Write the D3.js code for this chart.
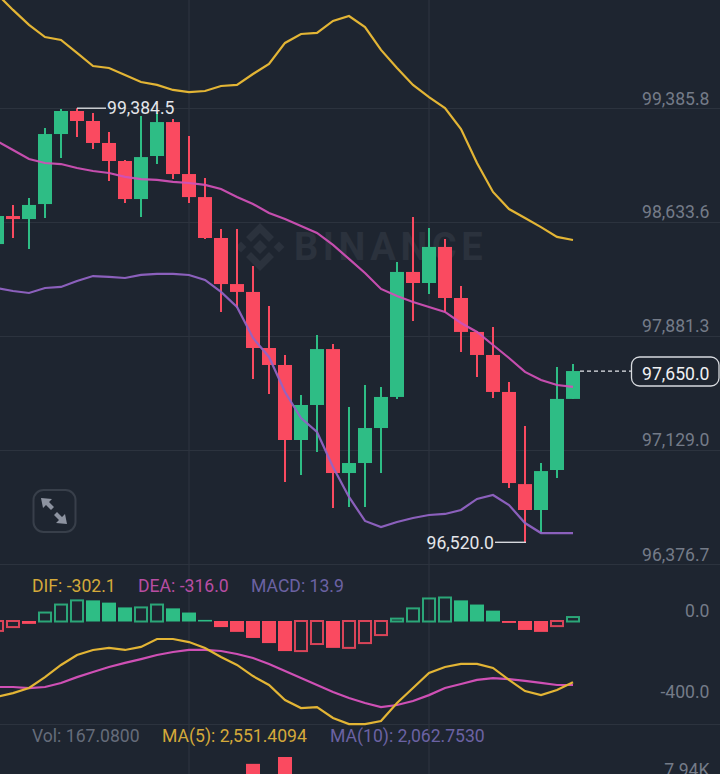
<!DOCTYPE html>
<html>
<head>
<meta charset="utf-8">
<script src="https://cdn.jsdelivr.net/npm/d3@7"></script>
<style>
  html, body { margin: 0; padding: 0; background: #1e2530; overflow: hidden; }
  svg { display: block; font-family: Roboto, sans-serif; }
</style>
</head>
<body>
<script>
const width = 720
const height = 774

// candles, oldest first, the first one is cut by the left edge
const opens = [98488, 98673, 98653, 98752, 99214, 99366, 99300, 99155, 99036, 98785, 99069, 99293, 98950, 98798, 98528, 98224, 98172, 97802, 97690, 97195, 97426, 97795, 96977, 97043, 97274, 97479, 98304, 98231, 98469, 98132, 97908, 97756, 97512, 96904, 96733, 96997, 97466]
const highs = [98686, 98746, 98792, 99254, 99379, 99384.5, 99353, 99227, 99043, 99333, 99353, 99313, 99201, 98924, 98587, 98587, 98343, 98079, 97756, 97492, 97888, 97828, 97413, 97558, 97545, 98370, 98667, 98594, 98521, 98211, 97914, 97941, 97578, 97287, 97043, 97677, 97696]
const lows = [98475, 98528, 98455, 98660, 99056, 99194, 99115, 98904, 98759, 98667, 99016, 98917, 98759, 98521, 98040, 98066, 97598, 97499, 96918, 96964, 97116, 96746, 96753, 96753, 96977, 97466, 97980, 98158, 98040, 97776, 97611, 97472, 96878, 96520, 96581, 96944, 97466]
const closes = [98673, 98653, 98746, 99214, 99366, 99300, 99155, 99036, 98785, 99062, 99293, 98950, 98798, 98528, 98224, 98172, 97802, 97690, 97195, 97426, 97795, 96977, 97043, 97274, 97479, 98304, 98231, 98469, 98132, 97908, 97756, 97512, 96911, 96733, 96990, 97466, 97650]

// bollinger bands
const bollUp = [100138, 100033, 99934, 99854, 99835, 99749, 99663, 99650, 99604, 99557, 99538, 99505, 99491, 99498, 99531, 99538, 99610, 99676, 99815, 99874, 99881, 99960, 99993, 99920, 99769, 99650, 99538, 99458, 99386, 99247, 99023, 98832, 98719, 98660, 98600, 98535, 98515]
const bollMid = [99168, 99109, 99049, 99023, 99016, 98990, 98970, 98957, 98931, 98917, 98911, 98898, 98891, 98878, 98851, 98799, 98752, 98693, 98653, 98607, 98561, 98482, 98390, 98297, 98192, 98145, 98106, 98073, 98040, 97967, 97908, 97822, 97736, 97644, 97591, 97558, 97545]
const bollLow = [98198, 98178, 98165, 98198, 98205, 98244, 98277, 98271, 98264, 98284, 98291, 98291, 98284, 98251, 98172, 98073, 97868, 97743, 97512, 97340, 97248, 97017, 96819, 96661, 96621, 96654, 96680, 96700, 96707, 96733, 96806, 96832, 96766, 96647, 96581, 96581, 96581]

// macd panel
const dif = [-375, -356, -331, -277, -217, -168, -143, -133, -143, -128, -89, -89, -104, -133, -178, -217, -272, -316, -390, -430, -425, -479, -509, -509, -494, -405, -331, -257, -227, -212, -212, -232, -291, -346, -366, -341, -302.1]
const dea = [-326, -326, -331, -326, -306, -277, -252, -227, -207, -188, -168, -153, -143, -143, -148, -163, -183, -212, -247, -282, -316, -351, -380, -405, -425, -415, -395, -366, -331, -311, -291, -282, -287, -296, -306, -316, -316]
const macd = [-31, -19, -9, 28, 53, 66, 66, 59, 44, 44, 53, 41, 28, 5, -19, -34, -53, -69, -94, -94, -72, -84, -84, -69, -44, 9, 41, 72, 75, 66, 53, 34, -6, -28, -34, -16, 13.9]
const macdHollow = [1, 1, 0, 1, 1, 1, 0, 0, 0, 1, 1, 0, 0, 0, 0, 0, 0, 0, 0, 1, 1, 0, 1, 1, 1, 1, 1, 1, 1, 0, 0, 0, 0, 0, 0, 1, 1]

// only these two volume bars reach above the bottom edge
const volIndex = [16, 18]
const volValues = [11700, 13400]

const priceTicks = [99385.8, 98633.6, 97881.3, 97129.0, 96376.7]
const macdTicks = [0, -400]
const volTicks = [7940]
const lastPrice = 97650.0
const highPrice = 99384.5
const lowPrice = 96520.0
const candleCount = closes.length

const bg = "#1e2530"
const green = "#2ebd85"
const red = "#fa4a60"
const yellow = "#e3b535"
const pink = "#cf50b5"
const purple = "#9163c4"
const grid = "#2c333e"
const tickColor = "#747b88"

const x = d3.scaleLinear().domain([0, 36]).range([-3, 573])
const y = d3.scaleLinear().domain([96376.7, 99385.8]).range([564, 108])
const yMacd = d3.scaleLinear().domain([-400, 0]).range([702, 621])
const yHist = d3.scaleLinear().domain([-100, 100]).range([653, 589])
const yVol = d3.scaleLinear().domain([7940, 13400]).range([779, 757])
const fmt = d3.format(",.1f")
const plain = (d) => fmt(d).replace("\u2212", "-")

const svg = d3.select("body").append("svg").attr("width", width).attr("height", height).attr("viewBox", [0, 0, width, height])
svg.append("rect").attr("width", width).attr("height", height).attr("fill", bg)

// vertical grid lines, they run through all panels
svg.append("g").attr("stroke", grid).attr("stroke-width", 1.2)
  .selectAll("line").data([12, 27]).join("line")
  .attr("x1", (d) => x(d)).attr("x2", (d) => x(d)).attr("y1", 0).attr("y2", height)

function hGrid(scale, ticks) {
  const g = svg.append("g").call(d3.axisRight(scale).tickValues(ticks).tickSize(width).tickFormat(""))
  g.select(".domain").remove()
  g.selectAll("line").attr("stroke", grid).attr("stroke-width", 1.2)
}
hGrid(y, priceTicks)
svg.append("g").call(d3.axisRight(d3.scaleLinear().domain([0, 1]).range([724, 725])).tickValues([0]).tickSize(width).tickFormat(""))
  .call((g) => g.select(".domain").remove())
  .selectAll("line").attr("stroke", grid).attr("stroke-width", 1.2)

// watermark
const mark = svg.append("g").attr("transform", "translate(260,247)").attr("fill", "#2b323d")
const diamond = (cx, cy, r) => `M${cx},${cy - r}L${cx + r},${cy}L${cx},${cy + r}L${cx - r},${cy}Z`
mark.append("path").attr("d", diamond(0, 0, 7))
mark.append("path").attr("d", diamond(-19, 0, 5.5))
mark.append("path").attr("d", diamond(19, 0, 5.5))
mark.append("path").attr("d", "M0,-24L14,-10L9,-5L0,-14L-9,-5L-14,-10Z")
mark.append("path").attr("d", "M0,24L14,10L9,5L0,14L-9,5L-14,10Z")
svg.append("text").attr("x", 294).attr("y", 260).text("BINANCE")
  .attr("fill", "#2b323d").attr("font-size", 38).attr("font-weight", 700).attr("letter-spacing", 4.6)

// macd histogram
const histG = svg.append("g")
histG.selectAll("rect").data(macd).join("rect")
  .attr("x", (d, i) => x(i) - 7 + (macdHollow[i] ? 1 : 0))
  .attr("width", (d, i) => (macdHollow[i] ? 12 : 14))
  .attr("y", (d) => Math.min(yHist(d), yHist(0)) + (d > 0 ? 0.5 : 0))
  .attr("height", (d) => Math.max(Math.abs(yHist(d) - yHist(0)), 1.5))
  .attr("fill", (d, i) => (macdHollow[i] ? "none" : d >= 0 ? green : red))
  .attr("stroke", (d, i) => (macdHollow[i] ? (d >= 0 ? green : red) : "none"))
  .attr("stroke-opacity", 0.85)
  .attr("stroke-width", 2)

const lineOf = (scale) => d3.line().x((d, i) => x(i)).y((d) => scale(d))
svg.append("path").datum(dea).attr("d", lineOf(yMacd)).attr("fill", "none").attr("stroke", pink).attr("stroke-width", 2.2)
svg.append("path").datum(dif).attr("d", lineOf(yMacd)).attr("fill", "none").attr("stroke", yellow).attr("stroke-width", 2.2)

// volume bars, most of them are below the window
svg.append("g").selectAll("rect").data(volValues).join("rect")
  .attr("x", (d, i) => x(volIndex[i]) - 7)
  .attr("width", 14)
  .attr("y", (d) => yVol(d))
  .attr("height", (d) => height - yVol(d))
  .attr("fill", red)

// candles
const up = (i) => closes[i] > opens[i]
const candle = svg.append("g").selectAll("g").data(d3.range(candleCount)).join("g")
candle.append("line")
  .attr("x1", (i) => x(i)).attr("x2", (i) => x(i))
  .attr("y1", (i) => y(highs[i])).attr("y2", (i) => y(lows[i]))
  .attr("stroke", (i) => (up(i) ? green : red))
  .attr("stroke-width", 2)
candle.append("rect")
  .attr("x", (i) => x(i) - 7)
  .attr("width", 14)
  .attr("y", (i) => y(Math.max(opens[i], closes[i])))
  .attr("height", (i) => Math.max(Math.abs(y(opens[i]) - y(closes[i])), 2))
  .attr("fill", (i) => (up(i) ? green : red))

// bands are drawn over the candles
svg.append("path").datum(bollUp).attr("d", lineOf(y)).attr("fill", "none").attr("stroke", yellow).attr("stroke-width", 2.2)
svg.append("path").datum(bollMid).attr("d", lineOf(y)).attr("fill", "none").attr("stroke", pink).attr("stroke-opacity", 0.95).attr("stroke-width", 2.2)
svg.append("path").datum(bollLow).attr("d", lineOf(y)).attr("fill", "none").attr("stroke", purple).attr("stroke-opacity", 0.95).attr("stroke-width", 2.2)

// right side labels, they sit just above their grid line
function labels(scale, ticks, format, dy) {
  const g = svg.append("g").attr("transform", "translate(709.5,0)")
    .call(d3.axisLeft(scale).tickValues(ticks).tickSize(0).tickPadding(0).tickFormat(format))
  g.select(".domain").remove()
  g.selectAll("text").attr("y", dy).attr("dy", 0)
    .attr("fill", tickColor).attr("font-size", 17.6).attr("font-family", "Roboto, sans-serif")
}
labels(y, priceTicks, plain, -4)
labels(yMacd, macdTicks, plain, -5)
labels(yVol, volTicks, (d) => (d / 1000).toFixed(2) + "K", -4)

// high and low markers
const markLine = (x1, x2, yy) =>
  svg.append("line").attr("x1", x1).attr("x2", x2).attr("y1", yy).attr("y2", yy).attr("stroke", "#e4e6ea").attr("stroke-width", 1.3)
markLine(x(5), 106, y(highPrice))
svg.append("text").attr("x", 107).attr("y", y(highPrice) + 6).text(plain(highPrice))
  .attr("fill", "#e4e6ea").attr("font-size", 17.6)
markLine(495, x(33) + 1, y(lowPrice))
svg.append("text").attr("x", 494).attr("y", y(lowPrice) + 7).attr("text-anchor", "end").text(plain(lowPrice))
  .attr("fill", "#e4e6ea").attr("font-size", 17.6)

// current price tag
svg.append("line").attr("x1", x(36) + 7).attr("x2", 631).attr("y1", y(lastPrice)).attr("y2", y(lastPrice))
  .attr("stroke", "#e4e6ea").attr("stroke-width", 1.2).attr("stroke-dasharray", "4 3")
svg.append("rect").attr("x", 631.5).attr("y", 357).attr("width", 87.5).attr("height", 29).attr("rx", 8)
  .attr("fill", bg).attr("stroke", "#d6d9de").attr("stroke-width", 1.3)
svg.append("text").attr("x", 709.5).attr("y", 380).attr("text-anchor", "end").text(plain(lastPrice))
  .attr("fill", "#f0f1f3").attr("font-size", 17.6)

// legends
const legendNames = ["DIF: -302.1", "DEA: -316.0", "MACD: 13.9"]
const legendX = [32, 138, 251]
const legendColors = ["#d4a93a", "#b84da3", "#6b62a3"]
svg.append("g").selectAll("text").data(legendNames).join("text")
  .attr("x", (d, i) => legendX[i]).attr("y", 592).text((d) => d)
  .attr("fill", (d, i) => legendColors[i]).attr("font-size", 17.6)

const volNames = ["Vol: 167.0800", "MA(5): 2,551.4094", "MA(10): 2,062.7530"]
const volX = [32, 162, 330]
const volColors = ["#656c7a", "#d4a93a", "#6b62a3"]
svg.append("g").selectAll("text").data(volNames).join("text")
  .attr("x", (d, i) => volX[i]).attr("y", 742).text((d) => d)
  .attr("fill", (d, i) => volColors[i]).attr("font-size", 17.6)

// expand button
const btn = svg.append("g")
btn.append("rect").attr("x", 33.5).attr("y", 490).attr("width", 42).attr("height", 42).attr("rx", 10)
  .attr("fill", "none").attr("stroke", "#383f4a").attr("stroke-width", 2)
btn.append("path").attr("fill", "#8d93a0")
  .attr("d", "M41,498L52,499L49,502L54,507L51,510L46,505L43,508Z")
btn.append("path").attr("fill", "#8d93a0")
  .attr("d", "M67,524L56,523L59,520L54,515L57,512L62,517L65,514Z")
</script>
</body>
</html>
